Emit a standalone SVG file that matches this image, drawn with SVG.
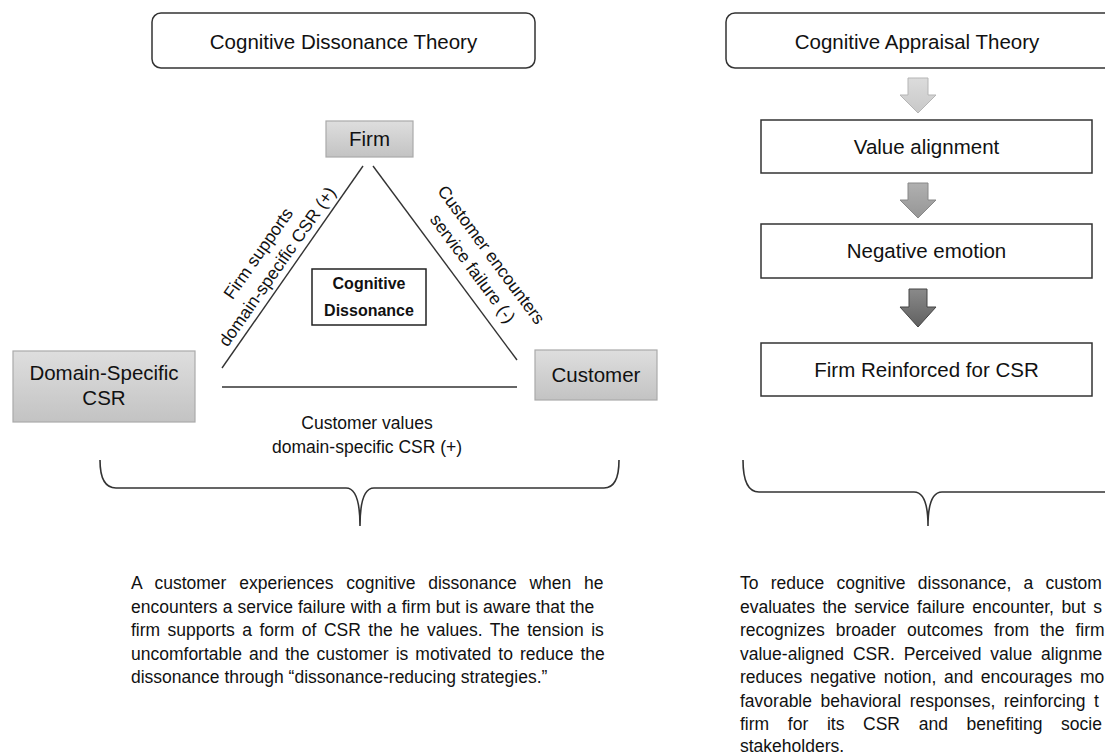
<svg xmlns="http://www.w3.org/2000/svg" width="1105" height="756" viewBox="0 0 1105 756">
<defs>
<linearGradient id="gbox" x1="0" y1="0" x2="0" y2="1"><stop offset="0" stop-color="#dedede"/><stop offset="1" stop-color="#c3c3c3"/></linearGradient>
<linearGradient id="ga1" x1="0" y1="0" x2="0" y2="1"><stop offset="0" stop-color="#dcdcdc"/><stop offset="1" stop-color="#c8c8c8"/></linearGradient>
<linearGradient id="ga2" x1="0" y1="0" x2="0" y2="1"><stop offset="0" stop-color="#b0b0b0"/><stop offset="1" stop-color="#969696"/></linearGradient>
<linearGradient id="ga3" x1="0" y1="0" x2="0" y2="1"><stop offset="0" stop-color="#8a8a8a"/><stop offset="1" stop-color="#606060"/></linearGradient>
</defs>
<style>
text{font-family:"Liberation Sans",Arial,sans-serif;fill:#111}
.title{font-size:20.5px;text-anchor:middle}
.box{font-size:20.5px;text-anchor:middle}
.lbl{font-size:17.5px;text-anchor:middle}
.bold{font-size:16px;font-weight:bold;text-anchor:middle}
.para{font-size:17.5px}
.frame{fill:#fff;stroke:#333;stroke-width:1.5}
.gray{fill:url(#gbox);stroke:#aaa;stroke-width:1.2}
.ln{stroke:#333;stroke-width:1.4;fill:none}
.brace{stroke:#333;stroke-width:1.6;fill:none}
</style>
<rect width="1105" height="756" fill="#fff"/>

<g id="title-left"><rect class="frame" x="152" y="13" width="383" height="55" rx="9"/><text class="title" x="343.5" y="49">Cognitive Dissonance Theory</text></g>
<g id="title-right"><rect class="frame" x="726" y="13" width="400" height="55" rx="9"/><text class="title" x="917" y="49">Cognitive Appraisal Theory</text></g>

<g id="firm"><rect class="gray" x="326" y="121" width="87" height="36"/><text class="box" x="369.5" y="146">Firm</text></g>
<g id="domain"><rect class="gray" x="13" y="351" width="182" height="71"/><text class="box" x="104" y="380">Domain-Specific</text><text class="box" x="104" y="405">CSR</text></g>
<g id="customer"><rect class="gray" x="535" y="350" width="122" height="50"/><text class="box" x="596" y="382">Customer</text></g>
<g id="dissonance"><rect x="312" y="269" width="114" height="56" fill="#fff" stroke="#222" stroke-width="1.5"/><text class="bold" x="369" y="289">Cognitive</text><text class="bold" x="369" y="316">Dissonance</text></g>

<g id="connectors">
<line class="ln" x1="363" y1="166" x2="222" y2="368"/>
<line class="ln" x1="373" y1="166" x2="517" y2="360"/>
<line class="ln" x1="222" y1="387" x2="517" y2="387"/>
<path class="brace" d="M100,460 Q100,488 116,488 L346,488 Q360,488 360,526 Q360,488 374,488 L604,488 Q619,488 619,460"/>
<path class="brace" d="M743,460 Q743,492 759,492 L914,492 Q928,492 928,526 Q928,492 942,492 L1120,492"/>
<path d="M908,78 H928 V95 H936 L918,113 L900,95 H908 Z" fill="url(#ga1)" stroke="#b5b5b5" stroke-width="1"/>
<path d="M908,183 H928 V200 H936 L918,218 L900,200 H908 Z" fill="url(#ga2)" stroke="#888" stroke-width="1"/>
<path d="M909,289 H927 V307 H936 L918,327 L900,307 H909 Z" fill="url(#ga3)" stroke="#444" stroke-width="1"/>
</g>

<g id="label-left" transform="translate(282,270) rotate(-55)"><text class="lbl" x="0" y="-23">Firm supports</text><text class="lbl" x="0" y="0">domain-specific CSR (+)</text></g>
<g id="label-right" transform="translate(468,272) rotate(53.5)"><text class="lbl" x="0" y="-23">Customer encounters</text><text class="lbl" x="0" y="0">service failure (-)</text></g>
<g id="label-bottom"><text class="lbl" x="367" y="429">Customer values</text><text class="lbl" x="367" y="453">domain-specific CSR (+)</text></g>

<g id="value-alignment"><rect x="761" y="120" width="331" height="53" fill="#fff" stroke="#333" stroke-width="1.5"/><text class="box" x="926.5" y="154">Value alignment</text></g>
<g id="negative-emotion"><rect x="761" y="224" width="331" height="54" fill="#fff" stroke="#333" stroke-width="1.5"/><text class="box" x="926.5" y="258">Negative emotion</text></g>
<g id="firm-reinforced"><rect x="761" y="343" width="331" height="53" fill="#fff" stroke="#333" stroke-width="1.5"/><text class="box" x="926.5" y="377">Firm Reinforced for CSR</text></g>

<g id="para-left">
<text class="para" x="131" y="589" word-spacing="7.9">A customer experiences cognitive dissonance when he</text>
<text class="para" x="131" y="612.5" word-spacing="0.2">encounters a service failure with a firm but is aware that the</text>
<text class="para" x="131" y="636" word-spacing="2.6">firm supports a form of CSR the he values. The tension is</text>
<text class="para" x="131" y="659.5" word-spacing="2.2">uncomfortable and the customer is motivated to reduce the</text>
<text class="para" x="131" y="683">dissonance through “dissonance-reducing strategies.”</text>
</g>

<g id="para-right">
<text class="para" x="740" y="589" word-spacing="7.4">To reduce cognitive dissonance, a custom</text>
<text class="para" x="740" y="612.5" word-spacing="2.6">evaluates the service failure encounter, but s</text>
<text class="para" x="740" y="636" word-spacing="6.2">recognizes broader outcomes from the firm</text>
<text class="para" x="740" y="659.5" word-spacing="4.0">value-aligned CSR. Perceived value alignme</text>
<text class="para" x="740" y="683" word-spacing="2.8">reduces negative notion, and encourages mo</text>
<text class="para" x="740" y="706.5" word-spacing="3.6">favorable behavioral responses, reinforcing t</text>
<text class="para" x="740" y="730" word-spacing="13.8">firm for its CSR and benefiting socie</text>
<text class="para" x="740" y="752">stakeholders.</text>
</g>
</svg>
